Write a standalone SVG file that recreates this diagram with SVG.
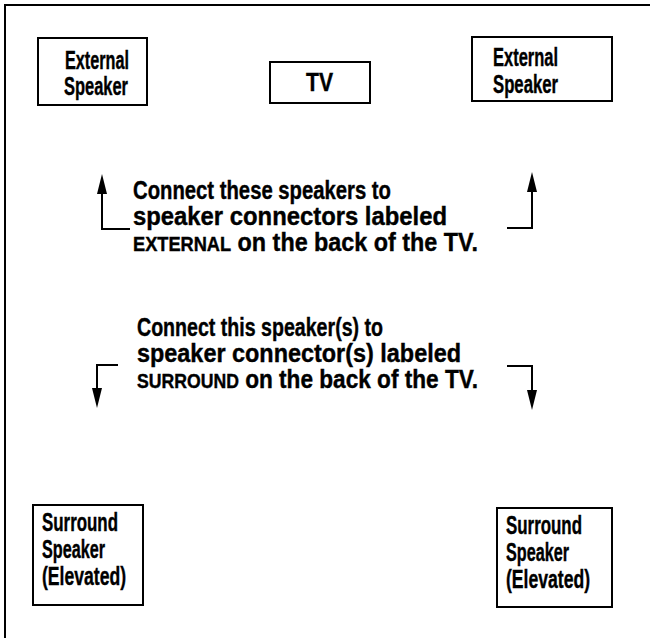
<svg xmlns="http://www.w3.org/2000/svg" width="650" height="638" viewBox="0 0 650 638">
<style>
.t{font-family:"Liberation Sans",Arial,sans-serif;font-weight:bold;font-size:25px;fill:#000;stroke:#000;stroke-width:0.4}
.sc{font-size:19.5px}
.box{fill:#fff;stroke:#000;stroke-width:2}
.ln{fill:none;stroke:#000;stroke-width:2}
.head{fill:#000}
</style>
<rect width="650" height="638" fill="#fff"/>
<path class="ln" d="M4,5 H650 M5,5 V638"/>
<g id="ext-left">
<rect class="box" x="38" y="38" width="109" height="67"/>
<text class="t" x="65" y="69" textLength="64" lengthAdjust="spacingAndGlyphs">External</text>
<text class="t" x="64" y="95" textLength="64" lengthAdjust="spacingAndGlyphs">Speaker</text>
</g>
<g id="tv">
<rect class="box" x="270" y="62" width="100" height="41"/>
<text class="t" x="306" y="91" textLength="27" lengthAdjust="spacingAndGlyphs">TV</text>
</g>
<g id="ext-right">
<rect class="box" x="472" y="37" width="140" height="64"/>
<text class="t" x="493" y="66" textLength="65" lengthAdjust="spacingAndGlyphs">External</text>
<text class="t" x="493" y="93" textLength="65" lengthAdjust="spacingAndGlyphs">Speaker</text>
</g>
<g id="sur-left">
<rect class="box" x="33" y="505" width="110" height="100"/>
<text class="t" x="42" y="531" textLength="76" lengthAdjust="spacingAndGlyphs">Surround</text>
<text class="t" x="42" y="558" textLength="63" lengthAdjust="spacingAndGlyphs">Speaker</text>
<text class="t" x="42" y="585" textLength="84" lengthAdjust="spacingAndGlyphs">(Elevated)</text>
</g>
<g id="sur-right">
<rect class="box" x="497" y="508" width="115" height="99"/>
<text class="t" x="506" y="534" textLength="76" lengthAdjust="spacingAndGlyphs">Surround</text>
<text class="t" x="506" y="561" textLength="63" lengthAdjust="spacingAndGlyphs">Speaker</text>
<text class="t" x="506" y="588" textLength="84" lengthAdjust="spacingAndGlyphs">(Elevated)</text>
</g>
<g id="note-external">
<text class="t" x="133" y="199" textLength="258" lengthAdjust="spacingAndGlyphs">Connect these speakers to</text>
<text class="t" x="133" y="225" textLength="314" lengthAdjust="spacingAndGlyphs">speaker connectors labeled</text>
<text class="t" x="133" y="251" textLength="345" lengthAdjust="spacingAndGlyphs"><tspan class="sc">EXTERNAL</tspan> on the back of the TV.</text>
</g>
<g id="note-surround">
<text class="t" x="137" y="336" textLength="246" lengthAdjust="spacingAndGlyphs">Connect this speaker(s) to</text>
<text class="t" x="137" y="362" textLength="324" lengthAdjust="spacingAndGlyphs">speaker connector(s) labeled</text>
<text class="t" x="137" y="388" textLength="341" lengthAdjust="spacingAndGlyphs"><tspan class="sc">SURROUND</tspan> on the back of the TV.</text>
</g>
<g id="connectors">
<path class="ln" d="M130,229 H102 V192"/>
<polygon class="head" points="102,174 97,194 107,194"/>
<path class="ln" d="M507,228 H532 V190"/>
<polygon class="head" points="532,172 527,192 537,192"/>
<path class="ln" d="M118,365 H97 V390"/>
<polygon class="head" points="97,408 92,388 102,388"/>
<path class="ln" d="M507,366 H532 V392"/>
<polygon class="head" points="532,410 527,390 537,390"/>
</g>
</svg>
